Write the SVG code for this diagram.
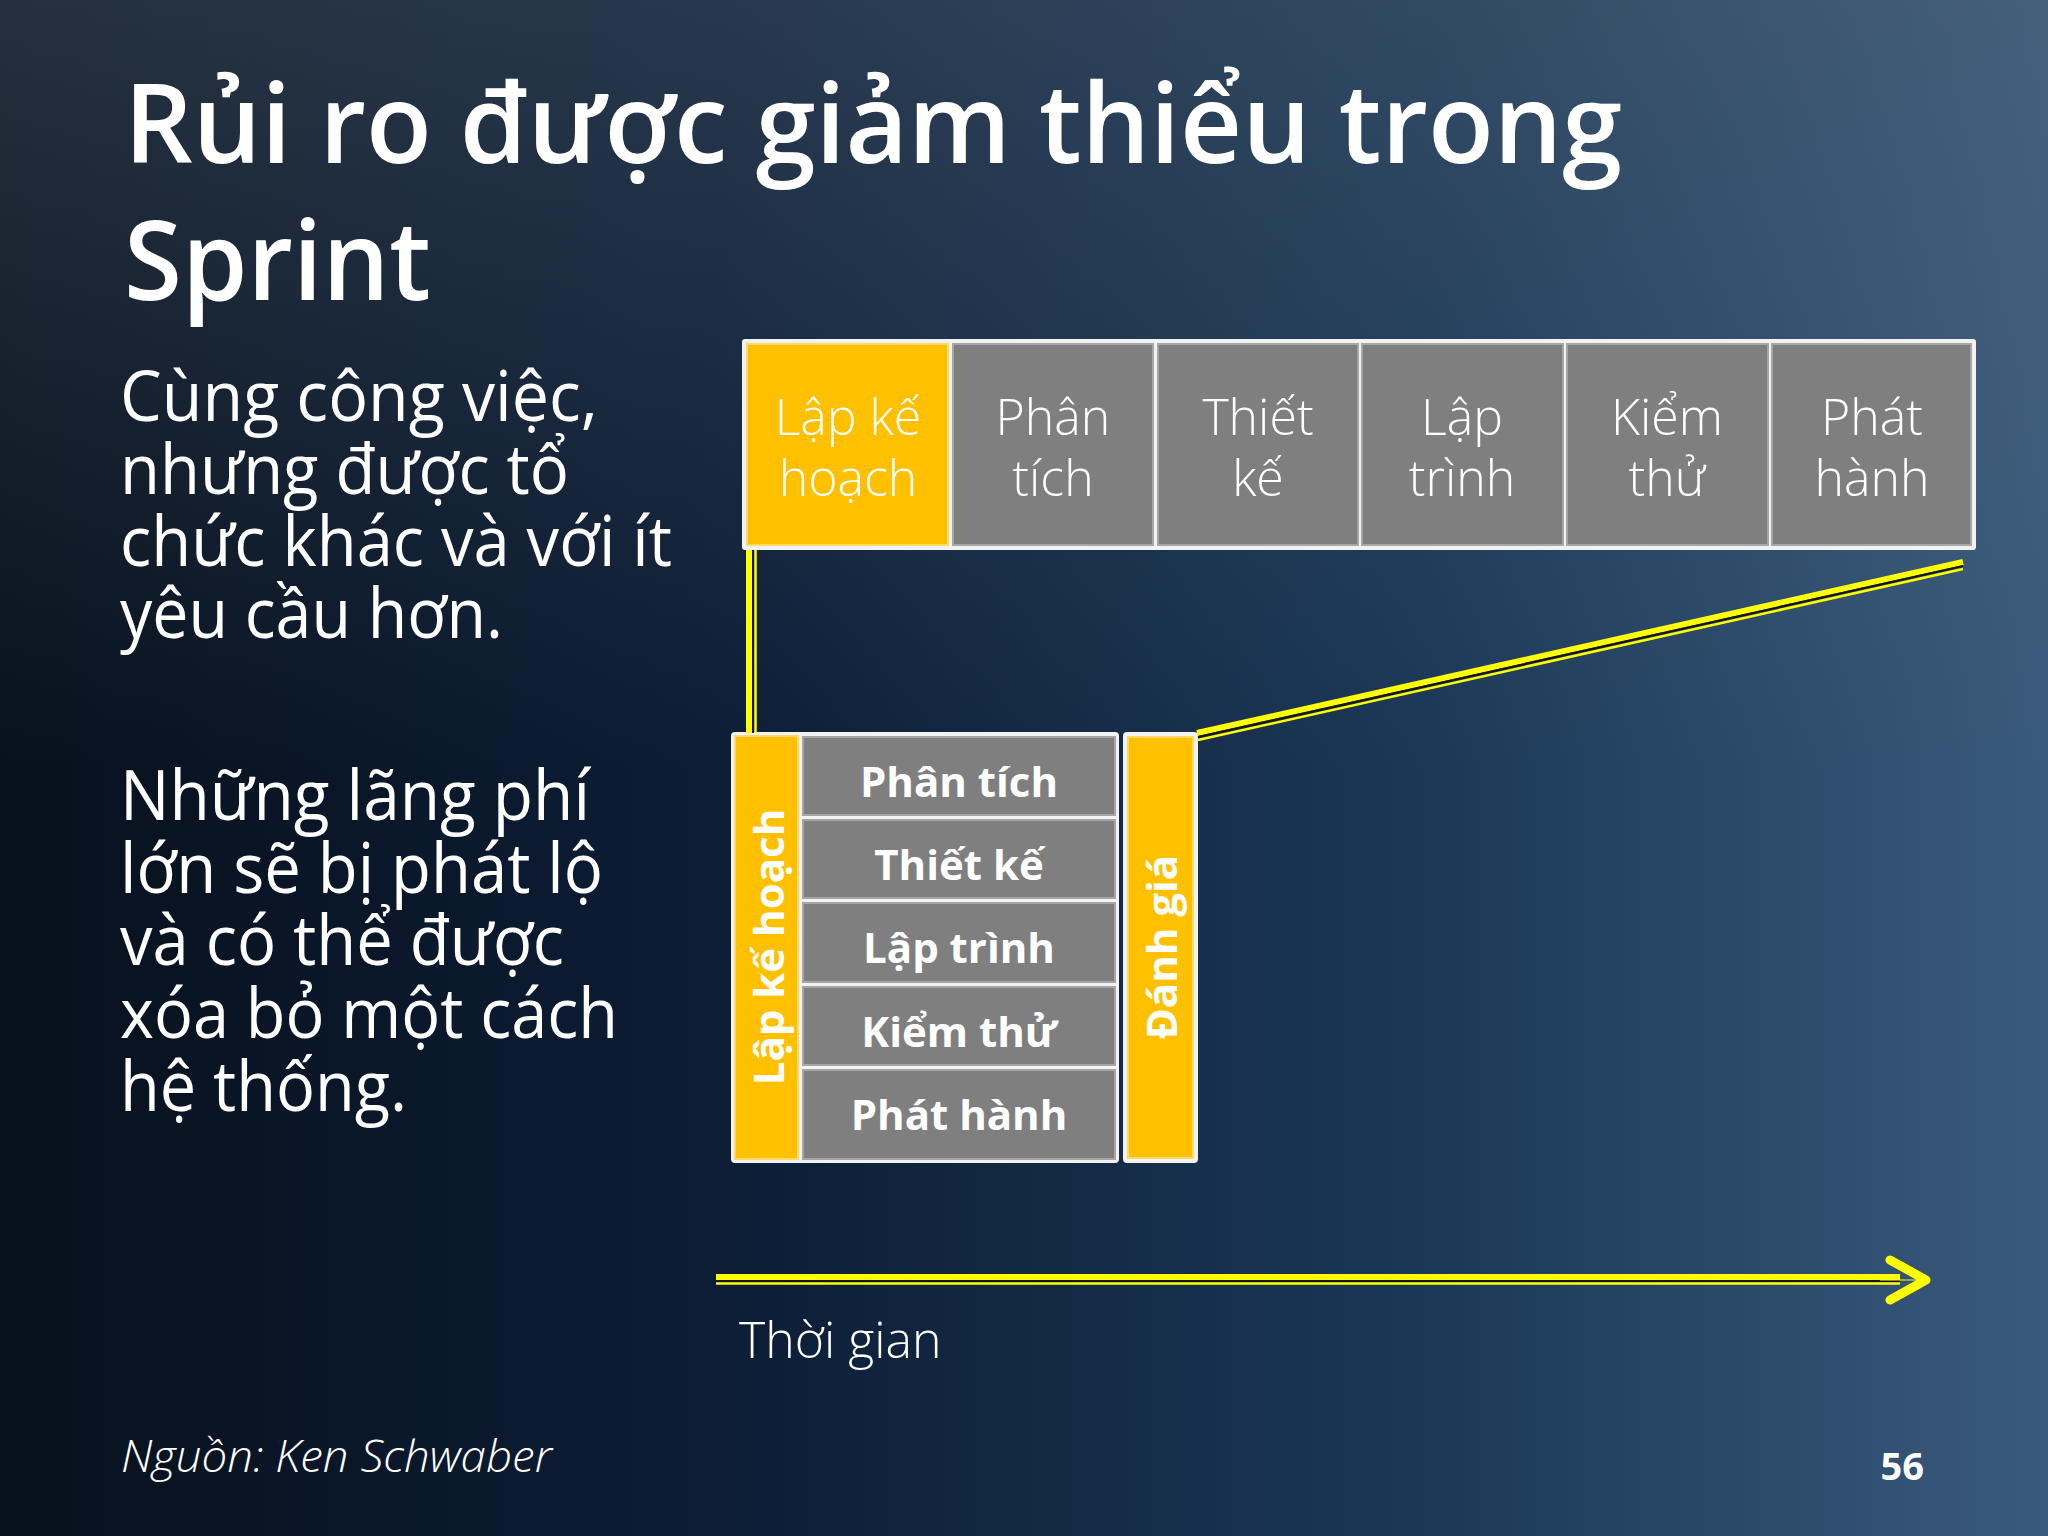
<svg xmlns="http://www.w3.org/2000/svg" width="2048" height="1536" viewBox="0 0 2048 1536">
<defs>
<linearGradient id="bg" x1="0" y1="0" x2="1" y2="0">
<stop offset="0" stop-color="#08111d"/>
<stop offset="0.35" stop-color="#0c1d35"/>
<stop offset="0.7" stop-color="#1b3857"/>
<stop offset="1" stop-color="#3a5a7c"/>
</linearGradient>
<linearGradient id="topshade" x1="0" y1="0" x2="0" y2="1">
<stop offset="0" stop-color="#5a6a7a" stop-opacity="0.35"/>
<stop offset="0.5" stop-color="#5a6a7a" stop-opacity="0"/>
</linearGradient>
<marker id="chev" markerUnits="userSpaceOnUse" markerWidth="60" markerHeight="60" refX="44" refY="25" orient="auto">
<polyline points="8,5 44,25 8,45" fill="none" stroke="#ffff00" stroke-width="9" stroke-linecap="round" stroke-linejoin="round"/>
</marker>
<style>
.title{font-family:"Open Sans","Noto Sans","DejaVu Sans",sans-serif;font-weight:600;fill:#fff}
.body{font-family:"Open Sans","Noto Sans","DejaVu Sans",sans-serif;font-weight:400;fill:#fff}
.cell{font-family:"Open Sans","Noto Sans","DejaVu Sans",sans-serif;font-weight:300;fill:#fff;font-size:50px;text-anchor:middle}
.bold{font-family:"Open Sans","Noto Sans","DejaVu Sans",sans-serif;font-weight:700;fill:#fff;font-size:42px;text-anchor:middle}
.yel{fill:#ffc000;stroke:#ffd966;stroke-width:2}
.gry{fill:#7f7f7f;stroke:#a6a6a6;stroke-width:2}
.frame{fill:#f2f2f2}
.ln1{stroke:#ffff00;stroke-width:6;fill:none}
.ln2{stroke:#151515;stroke-width:2;fill:none}
.ln3{stroke:#ffff00;stroke-width:2.5;fill:none}
</style>
</defs>
<rect width="2048" height="1536" fill="url(#bg)"/>
<rect width="2048" height="1536" fill="url(#topshade)"/>

<g id="title">
<text class="title" x="124" y="163" font-size="110" textLength="1498" lengthAdjust="spacingAndGlyphs">Rủi ro được giảm thiểu trong</text>
<text class="title" x="124" y="300" font-size="110" textLength="307" lengthAdjust="spacingAndGlyphs">Sprint</text>
</g>

<g id="body-text">
<text class="body" x="120" y="421" font-size="70" textLength="478" lengthAdjust="spacingAndGlyphs">Cùng công việc,</text>
<text class="body" x="120" y="494" font-size="70" textLength="449" lengthAdjust="spacingAndGlyphs">nhưng được tổ</text>
<text class="body" x="120" y="566" font-size="70" textLength="552" lengthAdjust="spacingAndGlyphs">chức khác và với ít</text>
<text class="body" x="120" y="638" font-size="70" textLength="383" lengthAdjust="spacingAndGlyphs">yêu cầu hơn.</text>
<text class="body" x="120" y="820" font-size="70" textLength="470" lengthAdjust="spacingAndGlyphs">Những lãng phí</text>
<text class="body" x="120" y="893" font-size="70" textLength="483" lengthAdjust="spacingAndGlyphs">lớn sẽ bị phát lộ</text>
<text class="body" x="120" y="965" font-size="70" textLength="444" lengthAdjust="spacingAndGlyphs">và có thể được</text>
<text class="body" x="120" y="1038" font-size="70" textLength="498" lengthAdjust="spacingAndGlyphs">xóa bỏ một cách</text>
<text class="body" x="120" y="1111" font-size="70" textLength="287" lengthAdjust="spacingAndGlyphs">hệ thống.</text>
</g>

<g id="waterfall">
<rect class="frame" x="742" y="339" width="1234" height="211" rx="3"/>
<g id="wf-plan"><rect class="yel" x="747" y="344" width="201" height="201"/>
<text class="cell" x="848" y="435">Lập kế</text><text class="cell" x="848" y="496">hoạch</text></g>
<g id="wf-analysis"><rect class="gry" x="953" y="344" width="200" height="201"/>
<text class="cell" x="1053" y="435">Phân</text><text class="cell" x="1053" y="496">tích</text></g>
<g id="wf-design"><rect class="gry" x="1158" y="344" width="200" height="201"/>
<text class="cell" x="1258" y="435">Thiết</text><text class="cell" x="1258" y="496">kế</text></g>
<g id="wf-code"><rect class="gry" x="1362" y="344" width="201" height="201"/>
<text class="cell" x="1462" y="435">Lập</text><text class="cell" x="1462" y="496">trình</text></g>
<g id="wf-test"><rect class="gry" x="1567" y="344" width="201" height="201"/>
<text class="cell" x="1667" y="435">Kiểm</text><text class="cell" x="1667" y="496">thử</text></g>
<g id="wf-release"><rect class="gry" x="1772" y="344" width="199" height="201"/>
<text class="cell" x="1872" y="435">Phát</text><text class="cell" x="1872" y="496">hành</text></g>
</g>

<g id="sprint">
<rect class="frame" x="731" y="732" width="388" height="431" rx="4"/>
<g id="sp-plan"><rect class="yel" x="735" y="736" width="63" height="423"/>
<text class="bold" transform="translate(784,947) rotate(-90)" x="0" y="0">Lập kế hoạch</text></g>
<g id="sp-analysis"><rect class="gry" x="803" y="737" width="312" height="78"/>
<text class="bold" x="959" y="797">Phân tích</text></g>
<g id="sp-design"><rect class="gry" x="803" y="820" width="312" height="78"/>
<text class="bold" x="959" y="880">Thiết kế</text></g>
<g id="sp-code"><rect class="gry" x="803" y="903" width="312" height="79"/>
<text class="bold" x="959" y="963">Lập trình</text></g>
<g id="sp-test"><rect class="gry" x="803" y="987" width="312" height="78"/>
<text class="bold" x="959" y="1047">Kiểm thử</text></g>
<g id="sp-release"><rect class="gry" x="803" y="1070" width="312" height="89"/>
<text class="bold" x="959" y="1130">Phát hành</text></g>
</g>

<g id="review">
<rect class="frame" x="1123" y="732" width="75" height="431" rx="4"/>
<rect class="yel" x="1128" y="737" width="65" height="421"/>
<text class="bold" transform="translate(1177,947) rotate(-90)" x="0" y="0">Đánh giá</text>
</g>

<g id="connectors">
<line class="ln1" x1="749" y1="550" x2="749" y2="733"/>
<line class="ln2" x1="753" y1="550" x2="753" y2="733"/>
<line class="ln3" x1="755.5" y1="550" x2="755.5" y2="733"/>
<line class="ln1" x1="1197" y1="733" x2="1963" y2="562"/>
<line class="ln2" x1="1198" y1="737" x2="1963" y2="566"/>
<line class="ln3" x1="1198" y1="740" x2="1963" y2="569"/>
<line class="ln1" x1="716" y1="1277" x2="1900" y2="1277"/>
<line class="ln2" x1="716" y1="1281" x2="1900" y2="1281"/>
<line class="ln3" x1="716" y1="1283.5" x2="1900" y2="1283.5"/>
<line x1="1880" y1="1280" x2="1926" y2="1280" stroke="#ffff00" stroke-width="1" marker-end="url(#chev)"/>
</g>

<g id="labels">
<text class="cell" x="739" y="1358" style="text-anchor:start" font-size="50">Thời gian</text>
<text x="121" y="1472" font-family="Open Sans, Noto Sans, sans-serif" font-style="italic" font-weight="300" font-size="44" fill="#fff" textLength="431" lengthAdjust="spacingAndGlyphs">Nguồn: Ken Schwaber</text>
<text x="1924" y="1480" font-family="Open Sans, Noto Sans, sans-serif" font-weight="700" font-size="38" fill="#fff" text-anchor="end">56</text>
</g>
</svg>
